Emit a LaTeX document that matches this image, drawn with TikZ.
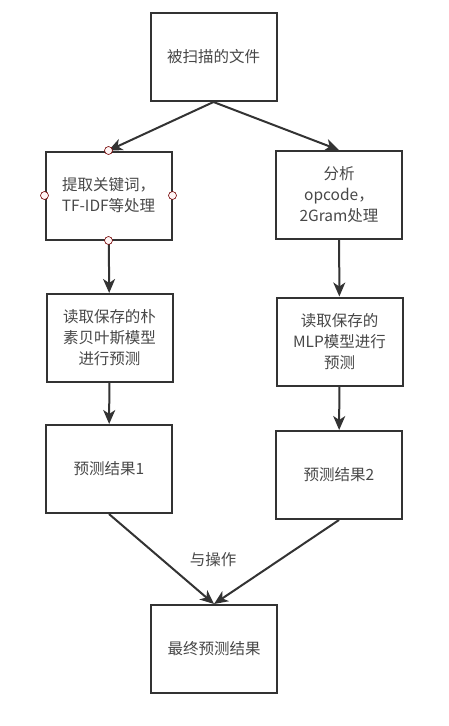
\documentclass[tikz,border=0pt]{standalone}
\usepackage{fontspec}
\setmainfont{Noto Sans CJK SC}
\usetikzlibrary{arrows.meta}

\begin{document}
\begin{tikzpicture}[x=1pt,y=-1pt,->,>={Stealth[length=14pt,width=12pt,inset=4pt]},line width=2pt,draw=black!80,
    font=\fontsize{15.5}{21}\selectfont,text=black!72]
    \tikzstyle{box}=[rectangle,draw,minimum width=126pt,minimum height=88pt,inner sep=2pt,align=center]
    \tikzstyle{port}=[circle,draw=red!45!black,fill=red!4,line width=0.6pt,minimum size=8pt,inner sep=0pt]
    \useasboundingbox (0,0) rectangle (449,726);

    \node[box] (file) at (213.5,57) {被扫描的文件};

    \node[box] (kw) at (108.5,195.5) {提取关键词，\\TF-IDF等处理};
    \node[box] (op) at (339,195) {分析\\opcode，\\2Gram处理};

    \node[box] (nb) at (109.5,338) {读取保存的朴\\素贝叶斯模型\\进行预测};
    \node[box] (mlp) at (339.5,341.5) {读取保存的\\MLP模型进行\\预测};

    \node[box] (res1) at (109,469) {预测结果1};
    \node[box] (res2) at (339,475) {预测结果2};

    \node[box] (final) at (214,649) {最终预测结果};

    \path (file.south) edge (kw.north)
          (file.south) edge (op.north);
    \path (kw) edge (nb) (nb) edge (res1);
    \path (op) edge (mlp) (mlp) edge (res2);
    \path (res1.south) edge (final.north)
          (res2.south) edge (final.north);

    \node (and) at (213,560) {与操作};

    \foreach \a in {north,south,east,west}
    \node[port] (kw-\a) at (kw.\a) {};
  \end{tikzpicture}
\end{document}
